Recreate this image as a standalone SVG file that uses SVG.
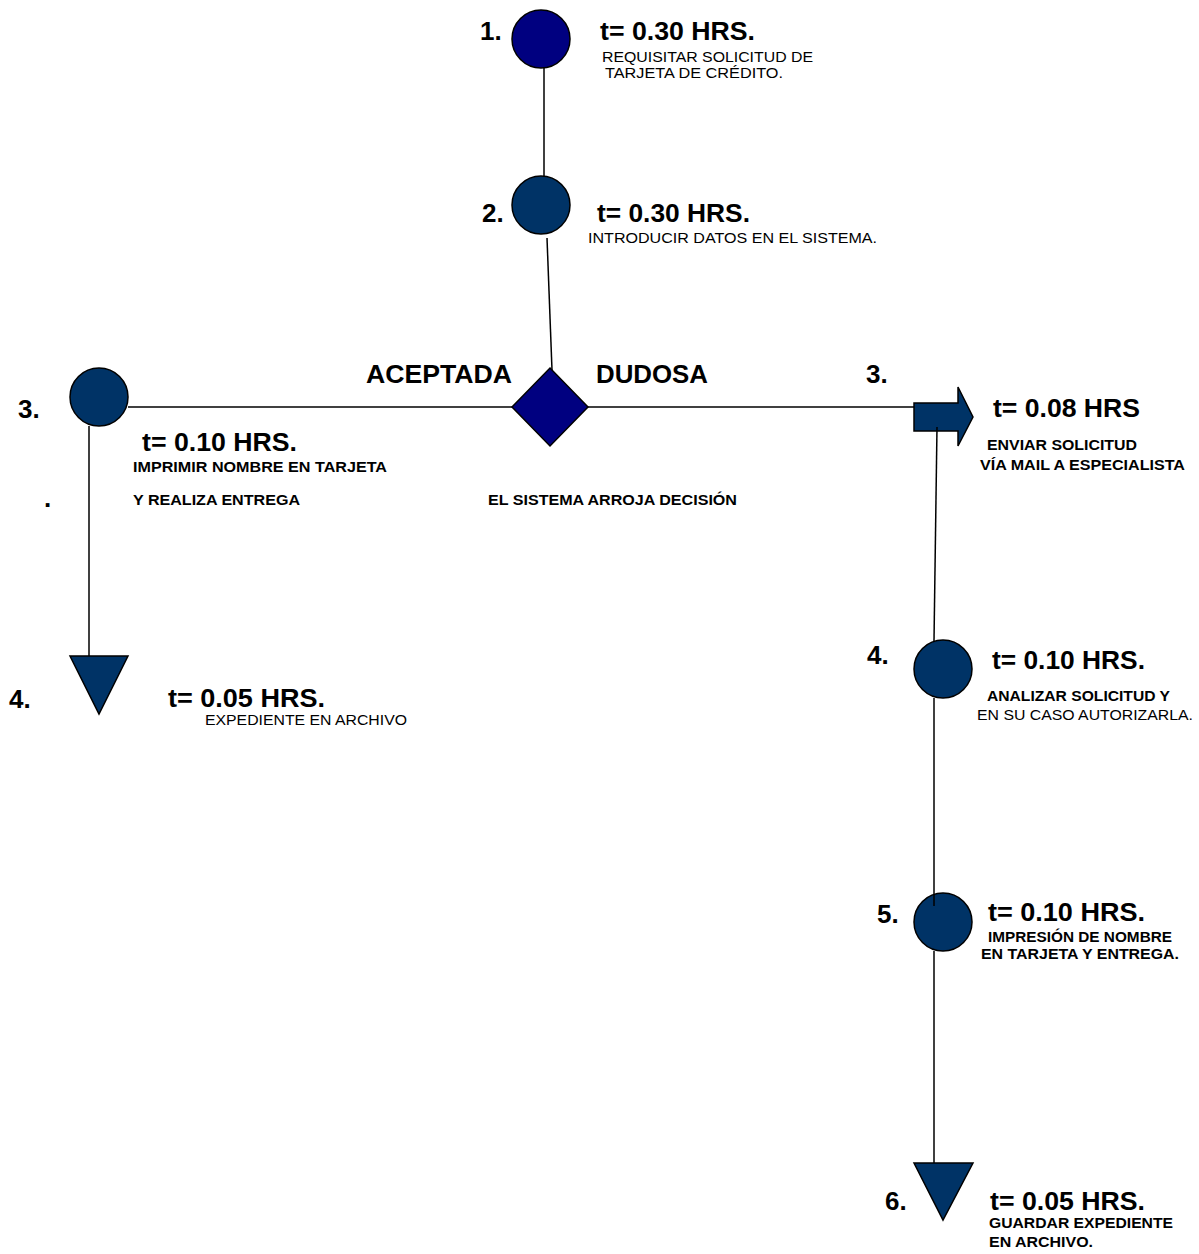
<svg xmlns="http://www.w3.org/2000/svg" width="1199" height="1254" viewBox="0 0 1199 1254">
<style>
text{font-family:"Liberation Sans",Arial,sans-serif;fill:#000}
.big{font-size:26px;font-weight:bold}
.sb{font-size:14px;font-weight:bold}
.sr{font-size:14px}
.n1{fill:#000080;stroke:#000;stroke-width:1.5}
.n2{fill:#003366;stroke:#000;stroke-width:1.5}
.c{stroke:#000;stroke-width:1.5;fill:none}
</style>
<rect width="1199" height="1254" fill="#fff"/>
<g id="node1">
<circle class="n1" cx="541" cy="39" r="29"/>
<text class="big" x="480" y="40">1.</text>
<text class="big" x="600" y="40" textLength="155" lengthAdjust="spacingAndGlyphs">t= 0.30 HRS.</text>
<text class="sr" x="602" y="62" textLength="211" lengthAdjust="spacingAndGlyphs">REQUISITAR SOLICITUD DE</text>
<text class="sr" x="605" y="78" textLength="178" lengthAdjust="spacingAndGlyphs">TARJETA DE CRÉDITO.</text>
</g>
<g id="node2">
<circle class="n2" cx="541" cy="205" r="29"/>
<text class="big" x="482" y="222">2.</text>
<text class="big" x="597" y="222" textLength="153" lengthAdjust="spacingAndGlyphs">t= 0.30 HRS.</text>
<text class="sr" x="588" y="243" textLength="289" lengthAdjust="spacingAndGlyphs">INTRODUCIR DATOS EN EL SISTEMA.</text>
</g>
<g id="decision">
<polygon class="n1" points="550,368 588,407 550,446 512,407"/>
<text class="big" x="366" y="383" textLength="146" lengthAdjust="spacingAndGlyphs">ACEPTADA</text>
<text class="big" x="596" y="383" textLength="112" lengthAdjust="spacingAndGlyphs">DUDOSA</text>
<text class="sb" x="488" y="505" textLength="249" lengthAdjust="spacingAndGlyphs">EL SISTEMA ARROJA DECISIÓN</text>
</g>
<g id="nodeL3">
<circle class="n2" cx="99" cy="397" r="29"/>
<text class="big" x="18" y="418">3.</text>
<text class="big" x="142" y="451" textLength="155" lengthAdjust="spacingAndGlyphs">t= 0.10 HRS.</text>
<text class="sb" x="133" y="472" textLength="254" lengthAdjust="spacingAndGlyphs">IMPRIMIR NOMBRE EN TARJETA</text>
<text class="sb" x="133" y="505" textLength="167" lengthAdjust="spacingAndGlyphs">Y REALIZA ENTREGA</text>
<text class="big" x="44" y="507">.</text>
</g>
<g id="nodeL4">
<polygon class="n2" points="70,656 128,656 99,714"/>
<text class="big" x="9" y="708">4.</text>
<text class="big" x="168" y="707" textLength="157" lengthAdjust="spacingAndGlyphs">t= 0.05 HRS.</text>
<text class="sr" x="205" y="725" textLength="202" lengthAdjust="spacingAndGlyphs">EXPEDIENTE EN ARCHIVO</text>
</g>
<g id="nodeR3">
<path class="n2" d="M914,403 H958 V387 L973,417 L958,446 V431 H914 Z"/>
<text class="big" x="866" y="383">3.</text>
<text class="big" x="993" y="417" textLength="147" lengthAdjust="spacingAndGlyphs">t= 0.08 HRS</text>
<text class="sb" x="987" y="450" textLength="150" lengthAdjust="spacingAndGlyphs">ENVIAR SOLICITUD</text>
<text class="sb" x="980" y="470" textLength="205" lengthAdjust="spacingAndGlyphs">VÍA MAIL A ESPECIALISTA</text>
</g>
<g id="nodeR4">
<circle class="n2" cx="943" cy="669" r="29"/>
<text class="big" x="867" y="664">4.</text>
<text class="big" x="992" y="669" textLength="153" lengthAdjust="spacingAndGlyphs">t= 0.10 HRS.</text>
<text class="sb" x="987" y="701" textLength="183" lengthAdjust="spacingAndGlyphs">ANALIZAR SOLICITUD Y</text>
<text class="sr" x="977" y="720" textLength="216" lengthAdjust="spacingAndGlyphs">EN SU CASO AUTORIZARLA.</text>
</g>
<g id="nodeR5">
<circle class="n2" cx="943" cy="922" r="29"/>
<text class="big" x="877" y="923">5.</text>
<text class="big" x="988" y="921" textLength="157" lengthAdjust="spacingAndGlyphs">t= 0.10 HRS.</text>
<text class="sb" x="988" y="942" textLength="184" lengthAdjust="spacingAndGlyphs">IMPRESIÓN DE NOMBRE</text>
<text class="sb" x="981" y="959" textLength="198" lengthAdjust="spacingAndGlyphs">EN TARJETA Y ENTREGA.</text>
</g>
<g id="nodeR6">
<polygon class="n2" points="914,1163 973,1163 943,1220"/>
<text class="big" x="885" y="1210">6.</text>
<text class="big" x="990" y="1210" textLength="155" lengthAdjust="spacingAndGlyphs">t= 0.05 HRS.</text>
<text class="sb" x="989" y="1228" textLength="184" lengthAdjust="spacingAndGlyphs">GUARDAR EXPEDIENTE</text>
<text class="sb" x="989" y="1247" textLength="104" lengthAdjust="spacingAndGlyphs">EN ARCHIVO.</text>
</g>
<g id="connectors">
<line class="c" x1="544" y1="68" x2="544" y2="177"/>
<line class="c" x1="547" y1="238" x2="552" y2="370"/>
<line class="c" x1="128" y1="407" x2="512" y2="407"/>
<line class="c" x1="588" y1="407" x2="914" y2="407"/>
<line class="c" x1="89" y1="426" x2="89" y2="656"/>
<line class="c" x1="937" y1="427" x2="934" y2="641"/>
<line class="c" x1="934" y1="698" x2="934" y2="906"/>
<line class="c" x1="934" y1="951" x2="934" y2="1163"/>
</g>
</svg>
